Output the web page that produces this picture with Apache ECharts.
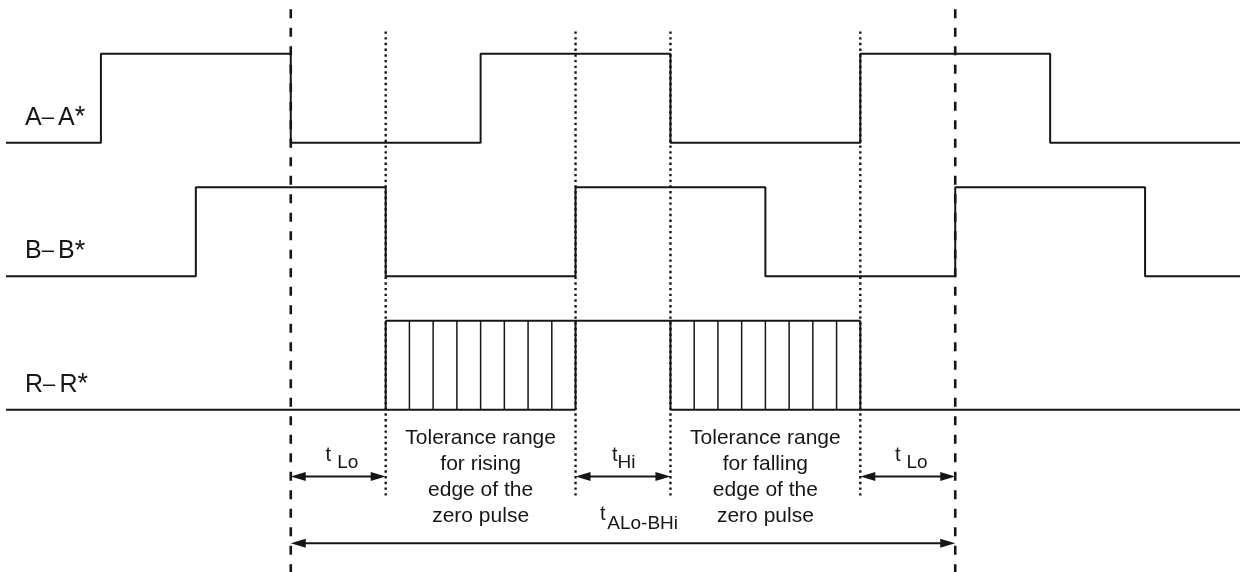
<!DOCTYPE html>
<html><head><meta charset="utf-8">
<script src="https://cdn.jsdelivr.net/npm/echarts@6/dist/echarts.min.js"></script>
<style>html,body{margin:0;padding:0;background:#fff}#c{width:1241px;height:572px}</style>
</head><body><div id="c"></div>
<script>
// ---- data (time in quarter-period edge units, y in signal-level units) ----
const signalNames = ['A', 'B', 'R'];
const signalBase = [6, 4.5, 3];
const aTimes = [-1, 0, 2, 4, 6, 8, 10, 12];
const aLevels = [0, 1, 0, 1, 0, 1, 0, 0];
const bTimes = [-1, 1, 3, 5, 7, 9, 11, 12];
const bLevels = [0, 1, 0, 1, 0, 1, 0, 0];
const rLowSpans = [[-1, 5], [6, 12]];
const rHighSpans = [[3, 8]];
const rEdgeTimes = [3, 5, 6, 8];
const hatchTimes = [3.25, 3.5, 3.75, 4, 4.25, 4.5, 4.75, 6.25, 6.5, 6.75, 7, 7.25, 7.5, 7.75];
const dashedTimes = [2, 9];
const dashedRange = [7.5, 1.1];
const dottedTimes = [3, 5, 6, 8];
const dottedRange = [7.25, 2.0];
const arrowSpans = [[2, 3], [5, 6], [8, 9]];
const arrowLevel = 2.25;
const longArrowSpan = [2, 9];
const longArrowLevel = 1.5;
const toleranceCenters = [4, 7];
const toleranceLevel = 2.24;
const toleranceTexts = [
  ['Tolerance range', 'for rising', 'edge of the', 'zero pulse'],
  ['Tolerance range', 'for falling', 'edge of the', 'zero pulse']
];
const timingMain = ['t', 't', 't', 't'];
const timingSub = ['Lo', 'Hi', 'Lo', 'ALo-BHi'];
const timingAnchors = [[2.5, 2.25], [5.5, 2.25], [8.5, 2.25], [5.5, 1.5]];
const labelTime = -0.8;
const labelLift = 0.28;

// ---- styles ----
const INK = '#161616';
const FONT = '"Liberation Sans", Arial, Helvetica, sans-serif';
// pixel offsets for timing labels: [mainDx, mainDy, subDx, subDy]
const timingOffsets = [[-12.7, -20.6, -1, -13.3], [-11, -20.6, -5.5, -13.3], [-12.8, -20.6, -1.3, -13.3], [-23, -29, -15.7, -19.8]];

const rSegments = [];
rLowSpans.forEach(s => rSegments.push([s[0], signalBase[2], s[1], signalBase[2]]));
rHighSpans.forEach(s => rSegments.push([s[0], signalBase[2] + 1, s[1], signalBase[2] + 1]));
rEdgeTimes.forEach(t => rSegments.push([t, signalBase[2], t, signalBase[2] + 1]));
const hatchSegments = hatchTimes.map(t => [t, signalBase[2], t, signalBase[2] + 1]);
const dashedSegments = dashedTimes.map(t => [t, dashedRange[0], t, dashedRange[1]]);
const dottedSegments = dottedTimes.map(t => [t, dottedRange[0], t, dottedRange[1]]);
const arrowData = arrowSpans.map(s => [s[0], s[1], arrowLevel]).concat([[longArrowSpan[0], longArrowSpan[1], longArrowLevel]]);

function segRender(style) {
  return function (params, api) {
    const p1 = api.coord([api.value(0), api.value(1)]);
    const p2 = api.coord([api.value(2), api.value(3)]);
    return { type: 'line', shape: { x1: p1[0], y1: p1[1], x2: p2[0], y2: p2[1] }, style: style };
  };
}
function segSeries(data, style) {
  return { type: 'custom', data: data, renderItem: segRender(style), silent: true, animation: false, clip: false,
    dimensions: ['x1', 'y1', 'x2', 'y2'], encode: { x: [0, 2], y: [1, 3] } };
}

const chart = echarts.init(document.getElementById('c'), null, { renderer: 'canvas' });
chart.setOption({
  backgroundColor: '#fff',
  animation: false,
  grid: { left: 6, right: 1, top: 9.2, bottom: 6.55, outerBoundsMode: 'none', containLabel: false },
  xAxis: { type: 'value', min: -1, max: 12, show: false },
  yAxis: { type: 'value', min: 1.25, max: 7.5, show: false },
  series: [
    { type: 'line', step: 'end', symbol: 'none', silent: true, animation: false,
      data: aTimes.map((t, i) => [t, signalBase[0] + aLevels[i]]), lineStyle: { color: INK, width: 2 } },
    { type: 'line', step: 'end', symbol: 'none', silent: true, animation: false,
      data: bTimes.map((t, i) => [t, signalBase[1] + bLevels[i]]), lineStyle: { color: INK, width: 2 } },
    segSeries(rSegments, { stroke: INK, lineWidth: 2 }),
    segSeries(hatchSegments, { stroke: INK, lineWidth: 1.5 }),
    segSeries(dashedSegments, { stroke: INK, lineWidth: 2.6, lineDash: [9, 9.5] }),
    segSeries(dottedSegments, { stroke: INK, lineWidth: 2.4, lineDash: [2.4, 3.3] }),
    { type: 'custom', data: arrowData, silent: true, animation: false, clip: false,
      dimensions: ['x1', 'x2', 'y'], encode: { x: [0, 1], y: 2 },
      renderItem: function (params, api) {
        const a = api.coord([api.value(0), api.value(2)]);
        const b = api.coord([api.value(1), api.value(2)]);
        const L = 15, W = 4.5;
        return { type: 'group', children: [
          { type: 'line', shape: { x1: a[0] + L - 2, y1: a[1], x2: b[0] - L + 2, y2: b[1] }, style: { stroke: INK, lineWidth: 2 } },
          { type: 'polygon', shape: { points: [[a[0], a[1]], [a[0] + L, a[1] - W], [a[0] + L, a[1] + W]] }, style: { fill: INK } },
          { type: 'polygon', shape: { points: [[b[0], b[1]], [b[0] - L, b[1] - W], [b[0] - L, b[1] + W]] }, style: { fill: INK } }
        ] };
      } },
    { type: 'custom', silent: true, animation: false, clip: false,
      data: toleranceCenters.map(c => [c, toleranceLevel]),
      renderItem: function (params, api) {
        const p = api.coord([api.value(0), api.value(1)]);
        return { type: 'text', x: p[0], y: p[1], style: {
          text: toleranceTexts[params.dataIndex].join('\n'), fill: INK, fontSize: 21, fontFamily: FONT,
          lineHeight: 26, align: 'center', verticalAlign: 'middle' } };
      } },
    { type: 'custom', silent: true, animation: false, clip: false,
      data: signalBase.map(b => [labelTime, b + labelLift]),
      renderItem: function (params, api) {
        const p = api.coord([api.value(0), api.value(1)]);
        const n = signalNames[params.dataIndex];
        return { type: 'text', x: p[0], y: p[1], style: {
          text: '{L|' + n + '}{d|–}{sp| }{L|' + n + '}{s|*}', fill: INK, fontFamily: FONT,
          align: 'left', verticalAlign: 'middle',
          rich: {
            L: { fontSize: 25, fontFamily: FONT, fill: INK },
            d: { fontSize: 22, fontFamily: FONT, fill: INK },
            sp: { fontSize: 15, fontFamily: FONT },
            s: { fontSize: 27, fontFamily: FONT, fill: INK }
          } } };
      } },
    { type: 'custom', silent: true, animation: false, clip: false,
      data: timingAnchors,
      renderItem: function (params, api) {
        const p = api.coord([api.value(0), api.value(1)]);
        const o = timingOffsets[params.dataIndex];
        return { type: 'group', children: [
          { type: 'text', x: p[0] + o[0], y: p[1] + o[1], style: { text: timingMain[params.dataIndex], fill: INK,
            fontSize: 20, fontFamily: FONT, align: 'left', verticalAlign: 'middle' } },
          { type: 'text', x: p[0] + o[2], y: p[1] + o[3], style: { text: timingSub[params.dataIndex], fill: INK,
            fontSize: 19, fontFamily: FONT, align: 'left', verticalAlign: 'middle' } }
        ] };
      } }
  ]
});
</script>
</body></html>
